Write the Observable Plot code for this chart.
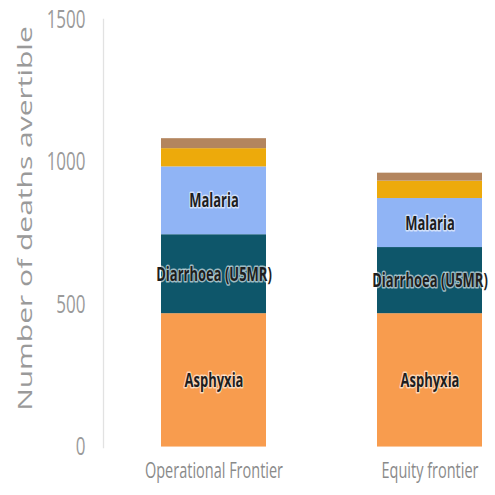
<!DOCTYPE html>
<html>
<head>
<meta charset="utf-8">
<script src="https://cdn.jsdelivr.net/npm/d3@7"></script>
<script src="https://cdn.jsdelivr.net/npm/@observablehq/plot@0.6"></script>
<style>
  html, body { margin: 0; padding: 0; background: #fff; }
  #chart { width: 495px; height: 495px; overflow: hidden; }
  #chart svg { display: block; transform: scaleY(1.5); transform-origin: 0 0; }
</style>
</head>
<body>
<div id="chart"></div>
<script>
const scenarios = ["Operational Frontier", "Equity frontier"];
const causes = ["Asphyxia", "Diarrhoea (U5MR)", "Malaria", "Other A", "Other B"];
const labelled = ["Asphyxia", "Diarrhoea (U5MR)", "Malaria"];
const operationalValues = [468, 277, 238, 64, 35];
const equityValues = [468, 232, 172, 61, 28];
const causeColors = ["#F89C4E", "#0E566A", "#90B4F5", "#EDAA0B", "#B3855E"];
const yTicks = [0, 500, 1000, 1500];
const yTitle = "Number of deaths avertible";

const data = [];
scenarios.forEach((s, i) => {
  const vals = i === 0 ? operationalValues : equityValues;
  causes.forEach((c, j) => data.push({scenario: s, cause: c, value: vals[j]}));
});

const chart = Plot.plot({
  width: 495,
  height: 330,
  marginLeft: 103,
  marginRight: 5,
  marginTop: 12.7,
  marginBottom: 32.3,
  style: {fontFamily: "'Open Sans', sans-serif", background: "#fff"},
  x: {domain: scenarios, paddingInner: 0.516, paddingOuter: 0.15, align: 0.877, label: null},
  y: {domain: [0, 1500]},
  color: {domain: causes, range: causeColors},
  marks: [
    Plot.frame({anchor: "left", stroke: "#e2e2e2", strokeWidth: 1.3}),
    Plot.axisY({ticks: yTicks, tickFormat: d => String(d), tickSize: 0, tickPadding: 18, fontSize: 17, color: "#9a9a9a", label: null}),
    Plot.text([yTitle], {frameAnchor: "left", textAnchor: "middle", lineAnchor: "middle", text: d => d, rotate: -90, dx: -78, dy: -10, fontSize: 20, fill: "#9a9a9a"}),
    Plot.axisX({tickSize: 0, tickPadding: 10, fontSize: 14.5, color: "#8a8a8a", label: null}),
    Plot.barY(data, {x: "scenario", y: "value", fill: "cause"}),
    Plot.text(data, Plot.stackY({
      x: "scenario", y: "value",
      text: d => labelled.includes(d.cause) ? d.cause : "",
      fontSize: 13, fontWeight: "bold", fill: "#1e1e1e",
      stroke: "white", strokeWidth: 2, strokeOpacity: 0.6
    }))
  ]
});
document.getElementById("chart").append(chart);
</script>
</body>
</html>
